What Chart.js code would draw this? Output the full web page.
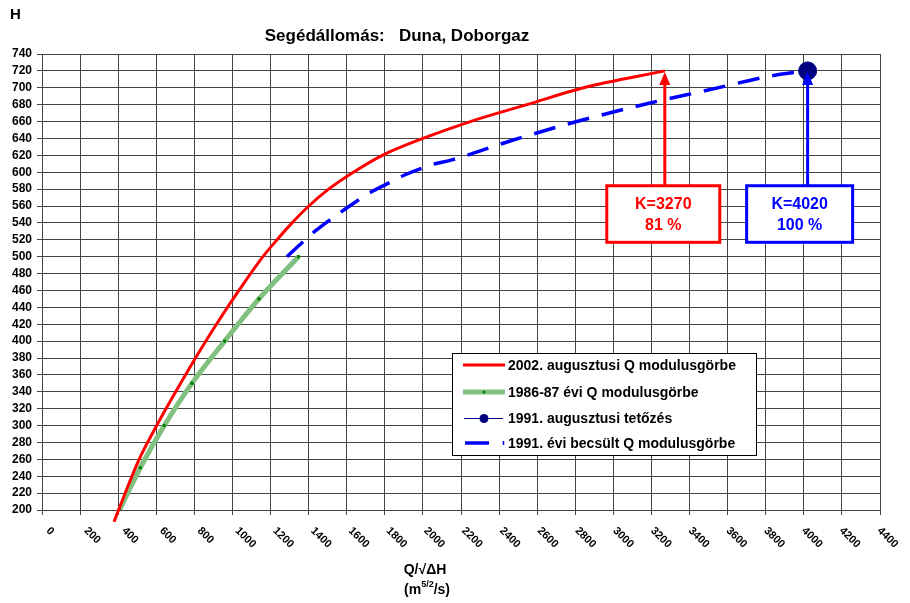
<!DOCTYPE html>
<html lang="hu">
<head>
<meta charset="UTF-8">
<title>Segédállomás: Duna, Doborgaz</title>
<script src="https://cdn.jsdelivr.net/npm/chart.js"></script>
<style>
    html, body { margin: 0; padding: 0; background: #fff; }
    #wrap { width: 910px; height: 603px; }
</style>
</head>
<body>
<div id="wrap"><canvas id="chart" width="910" height="603"></canvas></div>
<script>
// ---- data ----
const xTickValues = [0, 200, 400, 600, 800, 1000, 1200, 1400, 1600, 1800, 2000, 2200,
                     2400, 2600, 2800, 3000, 3200, 3400, 3600, 3800, 4000, 4200, 4400];
const yMin = 200, yMax = 740, yStep = 20;

const seriesNames = [
    '2002. augusztusi Q modulusgörbe',
    '1986-87 évi Q modulusgörbe',
    '1991. augusztusi tetőzés',
    '1991. évi becsült Q modulusgörbe'
];

const curve2002Q = [378, 402, 510, 602, 702, 806, 916, 1034, 1160, 1234, 1313, 1401, 1505, 1635, 1787, 2000, 2249, 2546, 2843, 3270];
const curve2002H = [186, 200, 260, 300, 340, 380, 420, 460, 500, 520, 540, 560, 580, 600, 620, 640, 660, 680, 700, 720];

const curve1986Q = [407, 516, 642, 787, 959, 1139, 1347];
const curve1986H = [200, 250, 300, 350, 400, 450, 500];

const peak1991Q = [4020];
const peak1991H = [720];

const curve1991Q = [1286, 1382, 1444, 1654, 1723, 1837, 1907, 2064, 2143, 2458, 2808, 3193, 3473, 3876, 4020];
const curve1991H = [500, 520, 532, 566, 576, 589, 597, 610, 614, 637, 660, 682, 696, 716, 720];

const noteK   = ['K=3270', 'K=4020'];
const notePct = ['81 %', '100 %'];
const noteQ   = [3270, 4020];
const noteH   = [720, 720];

const FONT = 'Arial, "Liberation Sans", sans-serif';
const RED = '#ff0000', BLUE = '#0000ff', NAVY = '#000080', GREEN = '#80c080', DKGREEN = '#008000';

function pts(qs, hs) {
    return qs.map((q, i) => ({ x: q, y: hs[i] }));
}

// ---- drawing helpers ----
const decorations = {
    id: 'decorations',
    beforeDraw(chart) {
        const ctx = chart.ctx;
        ctx.save();
        ctx.fillStyle = '#fff';
        ctx.fillRect(0, 0, chart.width, chart.height);
        ctx.restore();
    },
    afterDatasetsDraw(chart) {
        const ctx = chart.ctx;
        const xs = chart.scales.x, ys = chart.scales.y;
        const boxTop = ys.getPixelForValue(584), boxBottom = ys.getPixelForValue(517);
        const offsets = [[-58, 55], [-61, 45]];
        const colors = [RED, BLUE];

        noteK.forEach((k, i) => {
            const ax = xs.getPixelForValue(noteQ[i]);
            const ay = ys.getPixelForValue(noteH[i]);
            ctx.save();
            ctx.strokeStyle = colors[i];
            ctx.fillStyle = colors[i];
            ctx.lineWidth = 3;
            // arrow shaft
            ctx.beginPath();
            ctx.moveTo(ax, boxTop);
            ctx.lineTo(ax, ay + 12);
            ctx.stroke();
            // arrow head
            ctx.beginPath();
            ctx.moveTo(ax, ay + 1);
            ctx.lineTo(ax - 5.5, ay + 14);
            ctx.lineTo(ax + 5.5, ay + 14);
            ctx.closePath();
            ctx.fill();
            // box
            const left = ax + offsets[i][0], right = ax + offsets[i][1];
            ctx.fillStyle = '#fff';
            ctx.fillRect(left, boxTop, right - left, boxBottom - boxTop);
            ctx.strokeRect(left, boxTop, right - left, boxBottom - boxTop);
            ctx.fillStyle = colors[i];
            ctx.font = 'bold 16px ' + FONT;
            ctx.textAlign = 'center';
            ctx.textBaseline = 'middle';
            const cx = (left + right) / 2;
            ctx.fillText(k, cx, boxTop + 19);
            ctx.fillText(notePct[i], cx, boxTop + 40);
            ctx.restore();
        });
    },
    afterDraw(chart) {
        const ctx = chart.ctx;
        const area = chart.chartArea;
        const xs = chart.scales.x;
        ctx.save();
        ctx.fillStyle = '#000';

        // rotated x tick labels (slightly compressed, as in the original)
        ctx.font = 'bold 11px ' + FONT;
        ctx.textAlign = 'left';
        ctx.textBaseline = 'middle';
        xTickValues.forEach(v => {
            const px = xs.getPixelForValue(v);
            ctx.save();
            ctx.translate(px + 6 - 7 * v / 4400, area.bottom + 19);
            ctx.rotate(Math.PI / 4);
            ctx.fillText(String(v), 0, 0);
            ctx.restore();
        });

        // titles
        ctx.textAlign = 'center';
        ctx.textBaseline = 'alphabetic';
        ctx.font = 'bold 17px ' + FONT;
        ctx.fillText('Segédállomás:   Duna, Doborgaz', 397, 41);

        ctx.textAlign = 'left';
        ctx.font = 'bold 15px ' + FONT;
        ctx.fillText('H', 10, 19);

        ctx.textAlign = 'center';
        ctx.font = 'bold 14px ' + FONT;
        ctx.fillText('Q/\u221A\u0394H', 425, 574);
        // (m^5/2/s) with superscript
        const a = '(m', sup = '5/2', b = '/s)';
        ctx.font = 'bold 14px ' + FONT;
        const wa = ctx.measureText(a).width, wb = ctx.measureText(b).width;
        ctx.font = 'bold 9px ' + FONT;
        const ws = ctx.measureText(sup).width;
        let sx = 427 - (wa + ws + wb) / 2;
        ctx.textAlign = 'left';
        ctx.font = 'bold 14px ' + FONT;
        ctx.fillText(a, sx, 594);
        ctx.font = 'bold 9px ' + FONT;
        ctx.fillText(sup, sx + wa, 587);
        ctx.font = 'bold 14px ' + FONT;
        ctx.fillText(b, sx + wa + ws, 594);

        // legend
        const lx = 452, ly = 353, lw = 304, lh = 102;
        ctx.fillStyle = '#fff';
        ctx.fillRect(lx, ly, lw, lh);
        ctx.strokeStyle = '#000';
        ctx.lineWidth = 1;
        ctx.strokeRect(lx + 0.5, ly + 0.5, lw, lh);
        const rows = [365, 392, 418.5, 443];
        const s0 = 463, s1 = 505, sm = 484;
        // 2002
        ctx.strokeStyle = RED; ctx.lineWidth = 3;
        ctx.beginPath(); ctx.moveTo(s0, rows[0]); ctx.lineTo(s1, rows[0]); ctx.stroke();
        // 1986-87
        ctx.strokeStyle = GREEN; ctx.lineWidth = 5;
        ctx.beginPath(); ctx.moveTo(s0, rows[1]); ctx.lineTo(s1, rows[1]); ctx.stroke();
        ctx.fillStyle = DKGREEN;
        ctx.beginPath(); ctx.arc(sm, rows[1], 1.5, 0, Math.PI * 2); ctx.fill();
        // 1991 peak
        ctx.strokeStyle = NAVY; ctx.lineWidth = 1;
        ctx.beginPath(); ctx.moveTo(s0 + 1, rows[2]); ctx.lineTo(s1 - 2, rows[2]); ctx.stroke();
        ctx.fillStyle = NAVY;
        ctx.beginPath(); ctx.arc(sm, rows[2], 4.5, 0, Math.PI * 2); ctx.fill();
        // 1991 estimated
        ctx.strokeStyle = BLUE; ctx.lineWidth = 3.5;
        ctx.beginPath(); ctx.moveTo(s0 + 2, rows[3]); ctx.lineTo(489, rows[3]); ctx.stroke();
        ctx.lineWidth = 1.5;
        ctx.beginPath(); ctx.moveTo(503.5, rows[3] - 2); ctx.lineTo(503.5, rows[3] + 2); ctx.stroke();

        ctx.fillStyle = '#000';
        ctx.font = 'bold 14px ' + FONT;
        ctx.textAlign = 'left';
        ctx.textBaseline = 'middle';
        seriesNames.forEach((n, i) => ctx.fillText(n, 508, rows[i] + 1));
        ctx.restore();
    }
};

new Chart(document.getElementById('chart'), {
    type: 'scatter',
    data: {
        datasets: [
            {
                label: seriesNames[0],
                data: pts(curve2002Q, curve2002H),
                showLine: true,
                borderColor: RED,
                borderWidth: 3,
                pointRadius: 0,
                cubicInterpolationMode: 'monotone',
                clip: 12,
                order: 1
            },
            {
                label: seriesNames[1],
                data: pts(curve1986Q, curve1986H),
                showLine: true,
                borderColor: GREEN,
                borderWidth: 5,
                pointRadius: 1.8,
                pointBackgroundColor: DKGREEN,
                pointBorderWidth: 0,
                cubicInterpolationMode: 'monotone',
                order: 3
            },
            {
                label: seriesNames[2],
                data: pts(peak1991Q, peak1991H),
                showLine: false,
                pointRadius: 9,
                pointBackgroundColor: NAVY,
                pointBorderColor: NAVY,
                clip: 12,
                order: 0
            },
            {
                label: seriesNames[3],
                data: pts(curve1991Q, curve1991H),
                showLine: true,
                borderColor: BLUE,
                borderWidth: 3.5,
                borderDash: [22, 13],
                pointRadius: 0,
                cubicInterpolationMode: 'monotone',
                order: 2
            }
        ]
    },
    options: {
        responsive: false,
        animation: false,
        devicePixelRatio: 1,
        layout: { padding: { top: 54, right: 30, left: 0, bottom: 0 } },
        plugins: {
            legend: { display: false },
            title: { display: false },
            tooltip: { enabled: false }
        },
        scales: {
            x: {
                type: 'linear',
                min: 0,
                max: 4400,
                ticks: { display: false, stepSize: 200, autoSkip: false },
                grid: { color: '#444', lineWidth: 1, drawTicks: true, tickLength: 5, tickColor: '#444' },
                border: { display: true, color: '#444', width: 1 },
                afterFit(scale) { scale.height = 93; }
            },
            y: {
                min: yMin,
                max: yMax,
                ticks: {
                    stepSize: yStep,
                    autoSkip: false,
                    color: '#000',
                    padding: 5,
                    font: { family: FONT, size: 12, weight: 'bold' }
                },
                grid: { color: '#444', lineWidth: 1, drawTicks: true, tickLength: 5, tickColor: '#444' },
                border: { display: true, color: '#444', width: 1 },
                afterFit(scale) { scale.width = 42; }
            }
        }
    },
    plugins: [decorations]
});
</script>
</body>
</html>
